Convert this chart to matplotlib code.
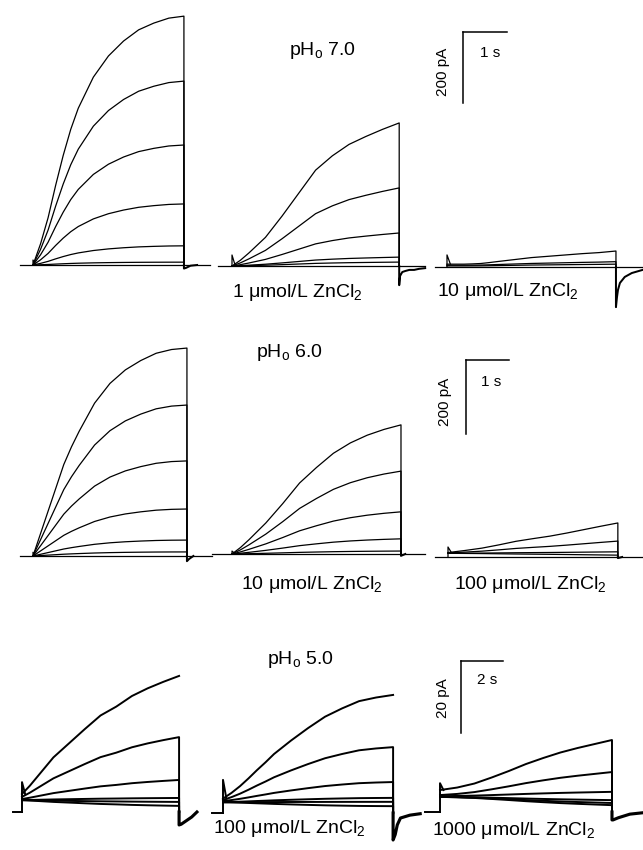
import matplotlib
matplotlib.use('Agg')
import matplotlib.pyplot as plt
import numpy as np

plt.rcParams['font.family'] = ['Liberation Sans', 'DejaVu Sans']
plt.rcParams['mathtext.fontset'] = 'custom'
plt.rcParams['mathtext.rm'] = 'Liberation Sans'
plt.rcParams['mathtext.it'] = 'Liberation Sans:italic'

# ---------------- data (time in s, current in pA) ----------------
frac = [0.0, 0.05, 0.1, 0.15, 0.2, 0.25, 0.3, 0.4, 0.5, 0.6, 0.7, 0.8, 0.9, 1.0]   # fraction of pulse

# pHo 7.0 : control / 1 umol/L / 10 umol/L ZnCl2
r1_dur = [3.43, 3.80, 3.84]
r1A_shape = [0, .085, .19, .32, .44, .545, .63, .755, .84, .90, .945, .972, .992, 1]
r1A_start = [0, 0, 0, 0, 0, 0]
r1A_end = [701, 518, 338, 172, 54, 8]
r1B_shape = [0, .04, .09, .145, .20, .275, .35, .51, .67, .77, .85, .905, .955, 1]
r1B_start = [0, 0, 0, 0, 0]
r1B_end = [403, 220, 93, 25, 11]
r1C_shape = [0, 0, 0, .02, .05, .12, .20, .35, .50, .60, .70, .80, .88, 1]
r1C_start = [8, 5, 3]
r1C_end = [45, 15, 8]
r1_spike = [14, 31, 34]
r1_drop = [True, True, True]
r1A_tail_t = [0, .05, .15, .30]
r1A_tail_i = [-10, -8, -2, 0]
r1B_tail_t = [0, .02, .07, .14, .23, .34, .45, .59]
r1B_tail_i = [-54, -28, -17, -14, -11, -11, -8, -6]
r1C_tail_t = [0, .023, .045, .09, .20, .36, .61]
r1C_tail_i = [-113, -85, -65, -45, -28, -17, -8]
r1_pre = [-0.30, -0.32, -0.27]
r1_post = [0.59, 0.59, 0.61]

# pHo 6.0 : control / 10 umol/L / 100 umol/L ZnCl2
r2_dur = [3.58, 3.93, 3.95]
r2A_shape = [0, .11, .22, .33, .44, .525, .60, .735, .83, .895, .94, .975, .993, 1]
r2A_start = [0, 0, 0, 0, 0, 0]
r2A_end = [562, 408, 257, 127, 43, 11]
r2B_shape = [0, .05, .11, .175, .24, .315, .39, .55, .67, .78, .86, .92, .965, 1]
r2B_start = [0, 0, 0, 0, 0]
r2B_end = [349, 224, 114, 41, 8]
r2C_shape = [0, .035, .07, .11, .15, .205, .26, .38, .47, .555, .66, .775, .89, 1]
r2C_start = [12, 11, 10, 10]
r2C_end = [92, 43, 14, 5]
r2_spike = [10, 8, 27]
r2_drop = [True, True, True]
r2A_tail_t = [0, .05, .15]
r2A_tail_i = [-14, -8, 0]
r2B_tail_t = [0, .10]
r2B_tail_i = [-5, 0]
r2C_tail_t = [0, .10]
r2C_tail_i = [-3, 0]
r2_pre = [-0.30, -0.47, -0.30]
r2_post = [0.58, 0.56, 0.58]

# pHo 5.0 : control / 100 umol/L / 1000 umol/L ZnCl2
r3_dur = [7.48, 8.10, 8.19]
r3A_shape = [0, .07, .15, .23, .31, .37, .43, .55, .665, .74, .83, .895, .95, 1]
r3A_start = [5.0, 4.2, 3.6, 3.3, 3.3, 3.3]
r3A_end = [37.8, 20.8, 8.9, 3.9, 2.8, 1.7]
r3B_shape = [0, .055, .12, .195, .275, .35, .43, .56, .68, .79, .87, .94, .975, 1]
r3B_start = [4.0, 3.6, 3.3, 3.0, 3.0, 3.0]
r3B_end = [32.8, 18.3, 8.6, 4.2, 3.1, 1.9]
r3C_shape = [0, .025, .05, .09, .13, .19, .25, .38, .52, .64, .75, .84, .92, 1]
r3C_start = [6.1, 4.7, 4.4, 4.2, 4.2, 4.2]
r3C_end = [20.0, 11.1, 5.6, 3.3, 2.5, 1.9]
r3_spike = [8.3, 9.2, 8.0]
r3_drop = [False, False, True]      # whether the largest trace shows the off-step
r3A_tail_t = [0, .10, .30, .60, .85]
r3A_tail_i = [-3.6, -3.4, -2.6, -1.4, 0]
r3B_tail_t = [0, .10, .20, .35, .80, 1.29]
r3B_tail_i = [-7.5, -6.0, -3.3, -1.4, -0.6, -0.2]
r3C_tail_t = [0, .05, .30, .85, 1.48]
r3C_tail_i = [-2.2, -2.2, -1.6, -0.6, -0.2]
r3_pre = [-0.43, -0.52, -0.71]

row_titles = ['pH$_\\mathrm{o}$ 7.0', 'pH$_\\mathrm{o}$ 6.0', 'pH$_\\mathrm{o}$ 5.0']
zn_labels = [['1 \u03bcmol/L ZnCl$_\\mathrm{2}$', '10 \u03bcmol/L ZnCl$_\\mathrm{2}$'],
             ['10 \u03bcmol/L ZnCl$_\\mathrm{2}$', '100 \u03bcmol/L ZnCl$_\\mathrm{2}$'],
             ['100 \u03bcmol/L ZnCl$_\\mathrm{2}$', '1000 \u03bcmol/L ZnCl$_\\mathrm{2}$']]
bar_pA = [200, 200, 20]
bar_s = [1, 1, 2]

# ---------------- layout (pixels) ----------------
W, H = 643, 850
fig = plt.figure(figsize=(W / 100, H / 100), dpi=100)

row_scale = [(44.0, 0.355), (43.0, 0.37), (21.0, 3.6)]   # px per s, px per pA
origins = [[(33, 265), (232, 266), (447, 267)],
           [(33, 556), (232, 554), (448, 557)],
           [(22, 812), (223, 813), (440, 812)]]


def make_ax(origin, sx, sy):
    ox, oy = origin
    ax = fig.add_axes([0, 0, 1, 1])
    ax.set_xlim(-ox / sx, (W - ox) / sx)
    ax.set_ylim((oy - H) / sy, oy / sy)
    ax.axis('off')
    ax.patch.set_alpha(0)
    return ax


def draw_panel(ax, dur, shape, starts, ends, spike, tt, ti, pre, post, lw, drop_top):
    t = np.array(frac) * dur
    sh = np.array(shape)
    for k, (s, e) in enumerate(zip(starts, ends)):
        y = s + (e - s) * sh
        if k == 0 and not drop_top:
            ax.plot(t, y, color='k', lw=lw, solid_joinstyle='round')
        else:
            ax.plot(np.r_[t, dur], np.r_[y, 0], color='k', lw=lw, solid_joinstyle='round')
    if post is not None:
        ax.plot([pre, dur + post], [0, 0], color='k', lw=lw)
    else:
        ax.plot([pre, 0], [0, 0], color='k', lw=lw)
    ax.plot([0, 0, 0.02 * dur], [0, spike, starts[0]], color='k', lw=lw)
    ax.plot(dur + np.r_[0, np.array(tt)], np.r_[0, np.array(ti)], color='k', lw=lw * 1.6)


rows = [
    dict(dur=r1_dur, pre=r1_pre, post=r1_post, spike=r1_spike, drop=r1_drop,
         shapes=[r1A_shape, r1B_shape, r1C_shape], starts=[r1A_start, r1B_start, r1C_start],
         ends=[r1A_end, r1B_end, r1C_end],
         tails=[(r1A_tail_t, r1A_tail_i), (r1B_tail_t, r1B_tail_i), (r1C_tail_t, r1C_tail_i)], lw=0.9),
    dict(dur=r2_dur, pre=r2_pre, post=r2_post, spike=r2_spike, drop=r2_drop,
         shapes=[r2A_shape, r2B_shape, r2C_shape], starts=[r2A_start, r2B_start, r2C_start],
         ends=[r2A_end, r2B_end, r2C_end],
         tails=[(r2A_tail_t, r2A_tail_i), (r2B_tail_t, r2B_tail_i), (r2C_tail_t, r2C_tail_i)], lw=0.9),
    dict(dur=r3_dur, pre=r3_pre, post=[None, None, None], spike=r3_spike, drop=r3_drop,
         shapes=[r3A_shape, r3B_shape, r3C_shape], starts=[r3A_start, r3B_start, r3C_start],
         ends=[r3A_end, r3B_end, r3C_end],
         tails=[(r3A_tail_t, r3A_tail_i), (r3B_tail_t, r3B_tail_i), (r3C_tail_t, r3C_tail_i)], lw=1.4),
]

bar_corner_px = [(463, 32), (466, 360), (461, 661)]

for r, row in enumerate(rows):
    sx, sy = row_scale[r]
    axes = []
    for p in range(3):
        ax = make_ax(origins[r][p], sx, sy)
        axes.append(ax)
        draw_panel(ax, row['dur'][p], row['shapes'][p], row['starts'][p], row['ends'][p],
                   row['spike'][p], row['tails'][p][0], row['tails'][p][1],
                   row['pre'][p], row['post'][p], row['lw'], row['drop'][p])
    # scale bar drawn in panel C axes with data lengths
    ox, oy = origins[r][2]
    cx, cy = bar_corner_px[r]
    t0 = (cx - ox) / sx
    i0 = (oy - cy) / sy
    axes[2].plot([t0, t0], [i0, i0 - bar_pA[r]], color='k', lw=1.1)
    axes[2].plot([t0, t0 + bar_s[r]], [i0, i0], color='k', lw=1.1)


def ftext(x, y, s, **kw):
    fig.text(x / W, 1 - y / H, s, **kw)


title_pos = [(289, 55), (256, 357), (267, 664)]
label_pos = [[(232, 297), (437, 296)], [(241, 589), (454, 589)], [(213, 833), (432, 835)]]
for r in range(3):
    ftext(*title_pos[r], row_titles[r], fontsize=14, ha='left', va='baseline')
    for p in range(2):
        ftext(*label_pos[r][p], zn_labels[r][p], fontsize=14, ha='left', va='baseline')

sbar_s_pos = [(480, 57), (481, 386), (477, 684)]
sbar_pA_pos = [(443, 72), (445, 402), (443, 698)]
for r in range(3):
    ftext(*sbar_s_pos[r], f'{bar_s[r]} s', fontsize=11, ha='left', va='baseline')
    ftext(*sbar_pA_pos[r], f'{bar_pA[r]} pA', fontsize=11, ha='center', va='center', rotation=90)

fig.savefig('out.png', dpi=100)
